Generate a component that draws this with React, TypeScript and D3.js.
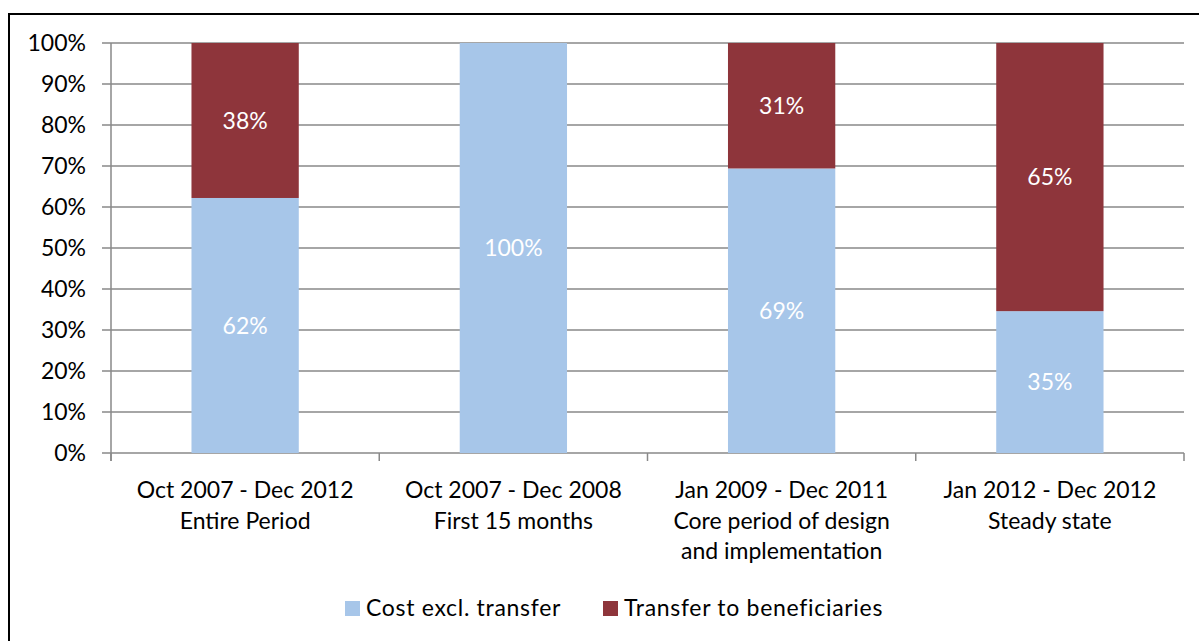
import React, { useEffect, useRef } from "react";
import * as d3 from "d3";

const periods = ["Oct 2007 - Dec 2012", "Oct 2007 - Dec 2008", "Jan 2009 - Dec 2011", "Jan 2012 - Dec 2012"];
const subtitles = [["Entire Period"], ["First 15 months"], ["Core period of design", "and implementation"], ["Steady state"]];
const costExclTransfer = [0.622, 1.0, 0.694, 0.346];
const transferToBeneficiaries = [0.378, 0, 0.306, 0.654];
const yTicks = [0, 0.1, 0.2, 0.3, 0.4, 0.5, 0.6, 0.7, 0.8, 0.9, 1.0];
const seriesNames = ["Cost excl. transfer", "Transfer to beneficiaries"];
const colors = ["#A7C6E9", "#8E353B"];

const W = 1199;
const H = 641;
const FONT = "Lato, 'Open Sans', sans-serif";
const FS = 23;

export default function App() {
  const ref = useRef<SVGSVGElement>(null);

  useEffect(() => {
    const svg = d3.select(ref.current);
    svg.selectAll("*").remove();

    const left = 111, right = 1184, top = 43, bottom = 453;

    // outer frame
    svg.append("rect")
      .attr("x", 9).attr("y", 14)
      .attr("width", W + 10).attr("height", H + 10)
      .attr("fill", "white").attr("stroke", "black").attr("stroke-width", 2);

    const x = d3.scaleBand().domain(periods).range([left, right]);
    const y = d3.scaleLinear().domain([0, 1]).range([bottom, top]);

    // gridlines + y ticks
    svg.append("g").selectAll("line").data(yTicks).enter().append("line")
      .attr("x1", left - 9).attr("x2", right)
      .attr("y1", (d) => y(d)).attr("y2", (d) => y(d))
      .attr("stroke", "#898989").attr("stroke-width", 1.5);

    svg.append("g").selectAll("text").data(yTicks).enter().append("text")
      .attr("x", 86).attr("y", (d) => y(d))
      .attr("dy", "0.35em")
      .attr("text-anchor", "end")
      .attr("font-family", FONT).attr("font-size", FS).attr("fill", "#000")
      .text((d) => d3.format(".0%")(d));

    const barW = x.bandwidth() * 0.4;
    const stack = periods.map((p, i) => ({ p, a: costExclTransfer[i], b: transferToBeneficiaries[i] }));

    // bars
    const g = svg.append("g");
    g.selectAll("rect.a").data(stack).enter().append("rect")
      .attr("x", (d) => x(d.p)! + (x.bandwidth() - barW) / 2)
      .attr("y", (d) => y(d.a))
      .attr("width", barW)
      .attr("height", (d) => y(0) - y(d.a))
      .attr("fill", colors[0]);
    g.selectAll("rect.b").data(stack.filter((d) => d.b > 0)).enter().append("rect")
      .attr("x", (d) => x(d.p)! + (x.bandwidth() - barW) / 2)
      .attr("y", (d) => y(d.a + d.b))
      .attr("width", barW)
      .attr("height", (d) => y(d.a) - y(d.a + d.b))
      .attr("fill", colors[1]);

    // data labels
    const labels: { p: string; v: number; mid: number }[] = [];
    stack.forEach((d) => {
      labels.push({ p: d.p, v: d.a, mid: d.a / 2 });
      if (d.b > 0) labels.push({ p: d.p, v: d.b, mid: d.a + d.b / 2 });
    });
    g.selectAll("text").data(labels).enter().append("text")
      .attr("x", (d) => x(d.p)! + x.bandwidth() / 2)
      .attr("y", (d) => y(d.mid))
      .attr("dy", "0.35em")
      .attr("text-anchor", "middle")
      .attr("font-family", FONT).attr("font-size", FS).attr("fill", "white")
      .text((d) => Math.round(d.v * 100) + "%");

    // axes lines
    svg.append("line").attr("x1", left).attr("x2", left).attr("y1", top).attr("y2", bottom + 8)
      .attr("stroke", "#898989").attr("stroke-width", 1.5);
    const xTicks = periods.map((p) => x(p)!).concat([right]);
    svg.append("g").selectAll("line").data(xTicks).enter().append("line")
      .attr("x1", (d) => d).attr("x2", (d) => d)
      .attr("y1", bottom).attr("y2", bottom + 8)
      .attr("stroke", "#898989").attr("stroke-width", 1.5);

    // x labels
    const xl = svg.append("g");
    periods.forEach((p, i) => {
      const lines = [p].concat(subtitles[i]);
      lines.forEach((t, j) => {
        xl.append("text")
          .attr("x", x(p)! + x.bandwidth() / 2)
          .attr("y", 498 + j * 30.5)
          .attr("text-anchor", "middle")
          .attr("font-family", FONT).attr("font-size", FS).attr("fill", "#000")
          .text(t);
      });
    });

    // legend
    const leg = svg.append("g");
    const legX = [345, 603];
    seriesNames.forEach((n, i) => {
      leg.append("rect").attr("x", legX[i]).attr("y", 601).attr("width", 15).attr("height", 15).attr("fill", colors[i]);
      leg.append("text").attr("x", legX[i] + 21).attr("y", 616)
        .attr("font-family", FONT).attr("font-size", FS).attr("letter-spacing", 0.7).attr("fill", "#000")
        .text(n);
    });
  }, []);

  return (
    <svg ref={ref} width={W} height={H} style={{ position: "absolute", left: 0, top: 0, background: "white" }} />
  );
}
